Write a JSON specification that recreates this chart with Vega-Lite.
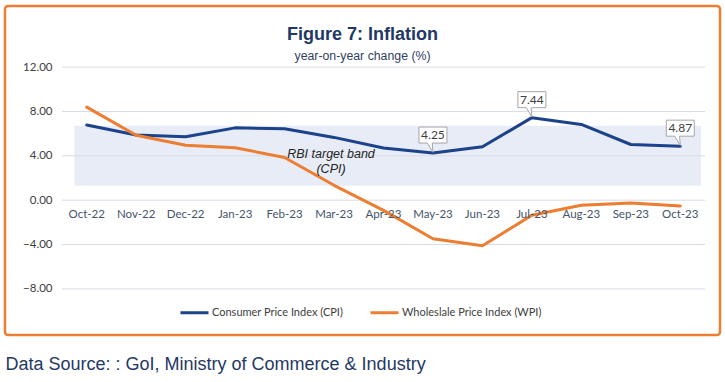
{
  "$schema": "https://vega.github.io/schema/vega-lite/v6.json",
  "width": 715,
  "height": 329,
  "autosize": {"type": "none"},
  "padding": {"left": 5, "top": 6, "right": 5, "bottom": 47},
  "background": "white",
  "config": {
    "view": {"stroke": "#ED7D31", "strokeWidth": 2.5, "cornerRadius": 3, "fill": "white"},
    "axis": {"grid": false, "domain": false, "ticks": false, "tickSize": 0}
  },
  "title": {
    "text": "Figure 7: Inflation",
    "subtitle": "year-on-year change (%)",
    "anchor": "middle",
    "frame": "group",
    "offset": -56,
    "font": "Liberation Sans",
    "fontSize": 18,
    "fontWeight": "bold",
    "color": "#1F3864",
    "subtitleFont": "Liberation Sans",
    "subtitleFontSize": 12.3,
    "subtitleColor": "#2F3F5F",
    "subtitlePadding": 6
  },
  "datasets": {
    "series": [
      {"month": "Oct-22", "series": "Consumer Price Index (CPI)", "value": 6.77},
      {"month": "Nov-22", "series": "Consumer Price Index (CPI)", "value": 5.88},
      {"month": "Dec-22", "series": "Consumer Price Index (CPI)", "value": 5.72},
      {"month": "Jan-23", "series": "Consumer Price Index (CPI)", "value": 6.52},
      {"month": "Feb-23", "series": "Consumer Price Index (CPI)", "value": 6.44},
      {"month": "Mar-23", "series": "Consumer Price Index (CPI)", "value": 5.66},
      {"month": "Apr-23", "series": "Consumer Price Index (CPI)", "value": 4.70},
      {"month": "May-23", "series": "Consumer Price Index (CPI)", "value": 4.25},
      {"month": "Jun-23", "series": "Consumer Price Index (CPI)", "value": 4.81},
      {"month": "Jul-23", "series": "Consumer Price Index (CPI)", "value": 7.44},
      {"month": "Aug-23", "series": "Consumer Price Index (CPI)", "value": 6.83},
      {"month": "Sep-23", "series": "Consumer Price Index (CPI)", "value": 5.02},
      {"month": "Oct-23", "series": "Consumer Price Index (CPI)", "value": 4.87},
      {"month": "Oct-22", "series": "Wholeslale Price Index (WPI)", "value": 8.39},
      {"month": "Nov-22", "series": "Wholeslale Price Index (WPI)", "value": 5.85},
      {"month": "Dec-22", "series": "Wholeslale Price Index (WPI)", "value": 4.95},
      {"month": "Jan-23", "series": "Wholeslale Price Index (WPI)", "value": 4.73},
      {"month": "Feb-23", "series": "Wholeslale Price Index (WPI)", "value": 3.85},
      {"month": "Mar-23", "series": "Wholeslale Price Index (WPI)", "value": 1.34},
      {"month": "Apr-23", "series": "Wholeslale Price Index (WPI)", "value": -0.92},
      {"month": "May-23", "series": "Wholeslale Price Index (WPI)", "value": -3.48},
      {"month": "Jun-23", "series": "Wholeslale Price Index (WPI)", "value": -4.12},
      {"month": "Jul-23", "series": "Wholeslale Price Index (WPI)", "value": -1.36},
      {"month": "Aug-23", "series": "Wholeslale Price Index (WPI)", "value": -0.46},
      {"month": "Sep-23", "series": "Wholeslale Price Index (WPI)", "value": -0.26},
      {"month": "Oct-23", "series": "Wholeslale Price Index (WPI)", "value": -0.52}
    ],
    "callouts": [
      {"month": "May-23", "value": 4.25},
      {"month": "Jul-23", "value": 7.44},
      {"month": "Oct-23", "value": 4.87}
    ],
    "grid": [
      {"v": -8, "start": "Oct-22", "end": "Oct-23"},
      {"v": -4, "start": "Oct-22", "end": "Oct-23"},
      {"v": 0, "start": "Oct-22", "end": "Oct-23"},
      {"v": 4, "start": "Oct-22", "end": "Oct-23"},
      {"v": 8, "start": "Oct-22", "end": "Oct-23"},
      {"v": 12, "start": "Oct-22", "end": "Oct-23"}
    ],
    "band": [
      {"start": "Oct-22", "end": "Oct-23", "lo": 1.3, "hi": 6.7, "month": "Mar-23", "mid": 4.2, "label": "RBI target band\n(CPI)"}
    ]
  },
  "layer": [
    {
      "data": {"name": "band"},
      "mark": {"type": "rect", "fill": "#E7ECF6"},
      "encoding": {
        "x": {
          "field": "start", "type": "nominal", "bandPosition": 0.25,
          "scale": {"type": "band", "domain": ["Oct-22","Nov-22","Dec-22","Jan-23","Feb-23","Mar-23","Apr-23","May-23","Jun-23","Jul-23","Aug-23","Sep-23","Oct-23"], "range": [57, 700], "paddingInner": 0, "paddingOuter": 0},
          "axis": {
            "orient": "bottom", "offset": -134.8, "labelPadding": 8, "labelFont": "Lato", "labelFontSize": 11.5, "labelColor": "#44546A", "labelAngle": 0,
            "title": "Data Source: : GoI, Ministry of Commerce & Industry",
            "titleX": 0, "titleY": 168.8, "titleAlign": "left", "titleAnchor": "start", "titleBaseline": "alphabetic",
            "titleFont": "Liberation Sans", "titleFontSize": 18, "titleFontWeight": "normal", "titleColor": "#1F3864"
          }
        },
        "x2": {"field": "end", "bandPosition": 0.92},
        "y": {
          "field": "lo", "type": "quantitative",
          "scale": {"domain": [-12.16, 17.51], "nice": false, "zero": false},
          "axis": {"values": [-8, -4, 0, 4, 8, 12], "format": ".2f", "labelPadding": -47, "labelFont": "Lato", "labelFontSize": 11.5, "labelColor": "#404040", "title": null}
        },
        "y2": {"field": "hi"}
      }
    },
    {
      "data": {"name": "grid"},
      "mark": {"type": "rule", "stroke": "#D6DCE6", "strokeWidth": 1},
      "encoding": {
        "x": {"field": "start", "type": "nominal", "bandPosition": 0},
        "x2": {"field": "end", "bandPosition": 1},
        "y": {"field": "v", "type": "quantitative"}
      }
    },
    {
      "data": {"name": "series"},
      "mark": {"type": "line", "strokeWidth": 3, "strokeJoin": "round", "strokeCap": "round"},
      "encoding": {
        "x": {"field": "month", "type": "nominal"},
        "y": {"field": "value", "type": "quantitative"},
        "color": {
          "field": "series", "type": "nominal",
          "scale": {"domain": ["Consumer Price Index (CPI)", "Wholeslale Price Index (WPI)"], "range": ["#1B428A", "#ED7D31"]},
          "legend": {
            "orient": "none", "legendX": 174, "legendY": 291, "direction": "horizontal", "title": null,
            "symbolType": "stroke", "symbolSize": 784, "symbolStrokeWidth": 3,
            "labelFont": "Lato", "labelFontSize": 11, "labelColor": "#404040", "columnPadding": 20, "labelOffset": 2, "padding": 0
          }
        }
      }
    },
    {
      "data": {"name": "callouts"},
      "mark": {
        "type": "point",
        "shape": "M-1,-1.857L1,-1.857L1,-0.714L-0.05,-0.714L0,-0.05L-0.4,-0.714L-1,-0.714Z",
        "size": 784, "filled": true, "fill": "white", "stroke": "#A6A6A6", "strokeWidth": 1, "opacity": 1
      },
      "encoding": {
        "x": {"field": "month", "type": "nominal"},
        "y": {"field": "value", "type": "quantitative"}
      }
    },
    {
      "data": {"name": "callouts"},
      "mark": {"type": "text", "dy": -18, "font": "Lato", "fontSize": 12, "color": "#404040", "baseline": "middle"},
      "encoding": {
        "x": {"field": "month", "type": "nominal"},
        "y": {"field": "value", "type": "quantitative"},
        "text": {"field": "value", "type": "quantitative", "format": ".2f"}
      }
    },
    {
      "data": {"name": "band"},
      "mark": {"type": "text", "dx": -3, "font": "Liberation Sans", "fontSize": 12.5, "fontStyle": "italic", "color": "#262626", "baseline": "middle", "lineBreak": "\n", "lineHeight": 15},
      "encoding": {
        "x": {"field": "month", "type": "nominal"},
        "y": {"field": "mid", "type": "quantitative"},
        "text": {"field": "label"}
      }
    }
  ]
}
